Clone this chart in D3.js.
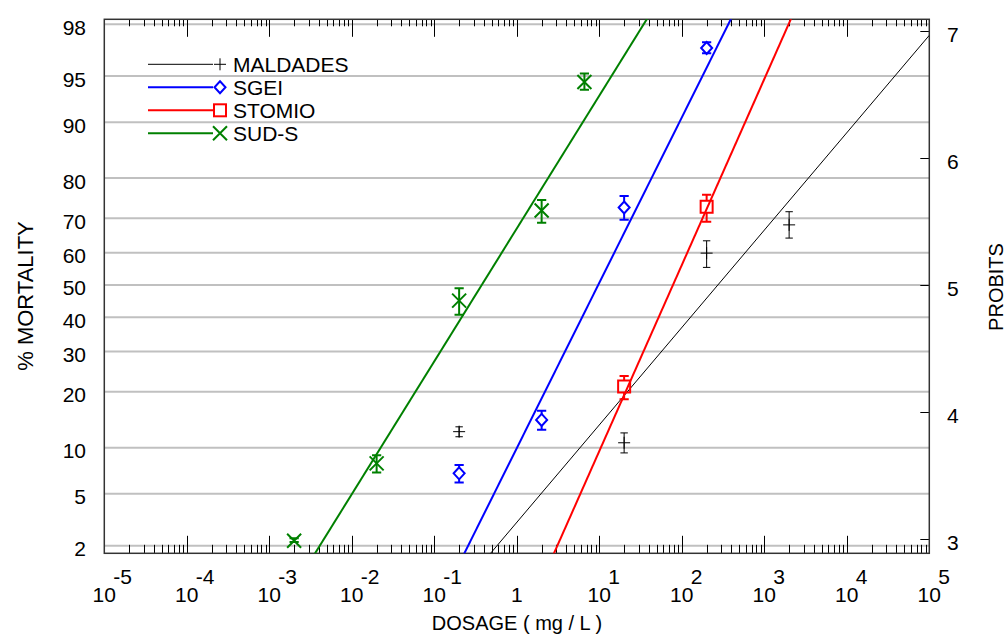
<!DOCTYPE html>
<html>
<head>
<meta charset="utf-8">
<script src="https://cdn.jsdelivr.net/npm/d3@7"></script>
<style>
body { margin: 0; background: #ffffff; }
text { font-family: Arial, "Liberation Sans", sans-serif; fill: #000; }
</style>
</head>
<body>
<script>
var seriesNames = ["MALDADES", "SGEI", "STOMIO", "SUD-S"];
var seriesColors = ["#000000", "#0000ff", "#ff0000", "#008000"];
var seriesMarkers = ["plus", "diamond", "square", "cross"];

// fitted probit lines: log10 of LD50 and slope (probits per decade)
var fitLogLD50 = [2.437, 0.987, 1.893, -0.425];
var fitSlope = [0.767, 1.302, 1.465, 1.046];

// observed mortality (%) with error bar limits, dose in mg/L
var maldadesDose = [0.2, 20, 200, 2000];
var maldadesPct = [12.4, 10.7, 59.9, 68.2];
var maldadesLow = [11.6, 9.3, 55.5, 64.4];
var maldadesHigh = [13.2, 12.2, 63.6, 71.8];

var sgeiDose = [0.2, 2, 20, 200];
var sgeiPct = [6.9, 14.4, 72.9, 96.9];
var sgeiLow = [6.0, 12.7, 69.6, 96.6];
var sgeiHigh = [7.8, 16.1, 75.8, 97.2];

var stomioDose = [20, 200];
var stomioPct = [21.2, 73.1];
var stomioLow = [18.4, 69.1];
var stomioHigh = [23.7, 76.1];

var sudsDose = [0.002, 0.02, 0.2, 2, 6.6];
var sudsPct = [2.2, 8.0, 45.1, 72.1, 94.5];
var sudsLow = [2.15, 7.0, 40.7, 68.8, 93.8];
var sudsHigh = [2.3, 9.0, 49.0, 74.8, 95.2];

var percentTicks = [2, 5, 10, 20, 30, 40, 50, 60, 70, 80, 90, 95, 98];
var probitTicks = [3, 4, 5, 6, 7];
var decadeTicks = [-5, -4, -3, -2, -1, 0, 1, 2, 3, 4, 5];

var seriesPoints = [
    [maldadesDose, maldadesPct, maldadesLow, maldadesHigh],
    [sgeiDose, sgeiPct, sgeiLow, sgeiHigh],
    [stomioDose, stomioPct, stomioLow, stomioHigh],
    [sudsDose, sudsPct, sudsLow, sudsHigh]
];

// percent -> probit (5 + inverse normal), Acklam approximation
function probit(pct) {
    var p = pct / 100;
    var a = [-39.69683028665376, 220.9460984245205, -275.9285104469687, 138.3577518672690, -30.66479806614716, 2.506628277459239];
    var b = [-54.47609879822406, 161.5858368580409, -155.6989798598866, 66.80131188771972, -13.28068155288572];
    var c = [-0.007784894002430293, -0.3223964580411365, -2.400758277161838, -2.549732539343734, 4.374664141464968, 2.938163982698783];
    var d = [0.007784695709041462, 0.3224671290700398, 2.445134137142996, 3.754408661907416];
    var plow = 0.02425, q, r, z;
    if (p < plow) {
        q = Math.sqrt(-2 * Math.log(p));
        z = (((((c[0] * q + c[1]) * q + c[2]) * q + c[3]) * q + c[4]) * q + c[5]) /
            ((((d[0] * q + d[1]) * q + d[2]) * q + d[3]) * q + 1);
    } else if (p <= 1 - plow) {
        q = p - 0.5;
        r = q * q;
        z = (((((a[0] * r + a[1]) * r + a[2]) * r + a[3]) * r + a[4]) * r + a[5]) * q /
            (((((b[0] * r + b[1]) * r + b[2]) * r + b[3]) * r + b[4]) * r + 1);
    } else {
        q = Math.sqrt(-2 * Math.log(1 - p));
        z = -(((((c[0] * q + c[1]) * q + c[2]) * q + c[3]) * q + c[4]) * q + c[5]) /
            ((((d[0] * q + d[1]) * q + d[2]) * q + d[3]) * q + 1);
    }
    return 5 + z;
}

var width = 1007;
var height = 634;
var plotLeft = 104.3, plotRight = 929.3, plotTop = 19.3, plotBottom = 553.3;
var fontsize = 21;

var x = d3.scaleLog().domain([1e-5, 1e5]).range([plotLeft, plotRight]);
var y = d3.scaleLinear().domain([2.887, 7.092]).range([plotBottom, plotTop]);

var svg = d3.select('body')
    .append('svg')
    .attr('width', width)
    .attr('height', height);

svg.append('defs').append('clipPath')
    .attr('id', 'plotclip')
    .append('rect')
    .attr('x', plotLeft)
    .attr('y', plotTop)
    .attr('width', plotRight - plotLeft)
    .attr('height', plotBottom - plotTop);

// grid lines at percent levels
svg.append('g').selectAll('line')
    .data(percentTicks)
    .enter().append('line')
    .attr('x1', plotLeft)
    .attr('x2', plotRight)
    .attr('y1', function (d) { return y(probit(d)); })
    .attr('y2', function (d) { return y(probit(d)); })
    .attr('stroke', '#c0c0c0')
    .attr('stroke-width', 2);

svg.append('g').selectAll('text')
    .data(percentTicks)
    .enter().append('text')
    .attr('x', 86)
    .attr('y', function (d) { return y(probit(d)) + 10.5; })
    .attr('text-anchor', 'end')
    .attr('font-size', fontsize)
    .text(function (d) { return d; });

// log ticks on top and bottom
var xTicks = x.ticks(20);
function isMajor(d) { return Math.abs(Math.log10(d) - Math.round(Math.log10(d))) < 1e-6; }

var tickGroup = svg.append('g').attr('stroke', '#000').attr('stroke-width', 1);
tickGroup.selectAll('line.bot')
    .data(xTicks)
    .enter().append('line')
    .attr('class', 'bot')
    .attr('x1', function (d) { return Math.round(x(d)) + 0.5; })
    .attr('x2', function (d) { return Math.round(x(d)) + 0.5; })
    .attr('y1', plotBottom)
    .attr('y2', function (d) { return isMajor(d) ? plotBottom - 17.5 : plotBottom - 8.5; });
tickGroup.selectAll('line.tp')
    .data(xTicks)
    .enter().append('line')
    .attr('class', 'tp')
    .attr('x1', function (d) { return Math.round(x(d)) + 0.5; })
    .attr('x2', function (d) { return Math.round(x(d)) + 0.5; })
    .attr('y1', plotTop)
    .attr('y2', function (d) { return isMajor(d) ? plotTop + 17.5 : plotTop + 7; });

// probit ticks on the right
tickGroup.selectAll('line.pr')
    .data(probitTicks)
    .enter().append('line')
    .attr('class', 'pr')
    .attr('x1', plotRight - 9)
    .attr('x2', plotRight)
    .attr('y1', function (d) { return Math.round(y(d)) + 0.5; })
    .attr('y2', function (d) { return Math.round(y(d)) + 0.5; });

svg.append('g').selectAll('text')
    .data(probitTicks)
    .enter().append('text')
    .attr('x', 947)
    .attr('y', function (d) { return y(d) + 11; })
    .attr('font-size', fontsize)
    .text(function (d) { return d; });

// decade labels 10^k
var xLabels = svg.append('g').selectAll('g')
    .data(decadeTicks)
    .enter().append('g');
xLabels.append('text')
    .attr('x', function (d) { return x(Math.pow(10, d)); })
    .attr('y', 602)
    .attr('text-anchor', 'middle')
    .attr('font-size', fontsize)
    .text(function (d) { return d === 0 ? '1' : '10'; });
xLabels.filter(function (d) { return d !== 0; })
    .append('text')
    .attr('x', function (d) { return x(Math.pow(10, d)) + 9; })
    .attr('y', 584)
    .attr('font-size', fontsize)
    .text(function (d) { return d; });

// frame
svg.append('rect')
    .attr('x', plotLeft)
    .attr('y', plotTop)
    .attr('width', plotRight - plotLeft)
    .attr('height', plotBottom - plotTop)
    .attr('fill', 'none')
    .attr('stroke', '#333')
    .attr('stroke-width', 1.5);

// axis titles
svg.append('text')
    .attr('x', 517)
    .attr('y', 630)
    .attr('text-anchor', 'middle')
    .attr('font-size', 20)
    .text('DOSAGE ( mg / L )');

svg.append('text')
    .attr('transform', 'translate(33,296) rotate(-90)')
    .attr('text-anchor', 'middle')
    .attr('font-size', 22)
    .text('% MORTALITY');

svg.append('text')
    .attr('transform', 'translate(1003,287) rotate(-90)')
    .attr('text-anchor', 'middle')
    .attr('font-size', 20)
    .text('PROBITS');

// marker shapes
function drawMarker(g, kind, color) {
    if (kind === 'plus') {
        g.append('path').attr('d', 'M-6,0H6M0,-6V6')
            .attr('stroke', color).attr('stroke-width', 1).attr('fill', 'none');
    } else if (kind === 'diamond') {
        g.append('path').attr('d', 'M0,-6L5.5,0L0,6L-5.5,0Z')
            .attr('stroke', color).attr('stroke-width', 2).attr('fill', 'none');
    } else if (kind === 'square') {
        g.append('rect').attr('x', -6).attr('y', -6).attr('width', 12).attr('height', 12)
            .attr('stroke', color).attr('stroke-width', 2).attr('fill', 'none');
    } else {
        g.append('path').attr('d', 'M-7,-7L7,7M-7,7L7,-7')
            .attr('stroke', color).attr('stroke-width', 2).attr('fill', 'none');
    }
}

// fitted lines
var fitLine = d3.line()
    .x(function (d) { return x(Math.pow(10, d[0])); })
    .y(function (d) { return y(d[1]); });

var lineGroup = svg.append('g').attr('clip-path', 'url(#plotclip)');
seriesNames.forEach(function (name, i) {
    var ends = [-5, 5].map(function (lg) {
        return [lg, 5 + fitSlope[i] * (lg - fitLogLD50[i])];
    });
    lineGroup.append('path')
        .attr('d', fitLine(ends))
        .attr('fill', 'none')
        .attr('stroke', seriesColors[i])
        .attr('stroke-width', i === 0 ? 1 : 2);
});

// points with error bars
seriesNames.forEach(function (name, i) {
    var pts = seriesPoints[i];
    var color = seriesColors[i];
    var kind = seriesMarkers[i];
    var sw = i === 0 ? 1 : 2;
    var cap = i === 0 ? 3.7 : 4.6;
    var gap = (kind === 'diamond' || kind === 'square') ? 6 : 0;
    pts[0].forEach(function (dose, j) {
        var cx = x(dose);
        var cy = y(probit(pts[1][j]));
        var yLo = y(probit(pts[2][j]));
        var yHi = y(probit(pts[3][j]));
        var g = svg.append('g');
        var bars = 'M' + cx + ',' + yHi + 'V' + Math.min(cy - gap, yLo) +
            'M' + cx + ',' + Math.max(cy + gap, yHi) + 'V' + yLo +
            'M' + (cx - cap) + ',' + yHi + 'H' + (cx + cap) +
            'M' + (cx - cap) + ',' + yLo + 'H' + (cx + cap);
        g.append('path')
            .attr('d', bars)
            .attr('stroke', color)
            .attr('stroke-width', sw)
            .attr('fill', 'none');
        var m = g.append('g').attr('transform', 'translate(' + cx + ',' + cy + ')');
        drawMarker(m, kind, color);
    });
});

// legend
var legend = svg.append('g');
seriesNames.forEach(function (name, i) {
    var ly = 64.3 + i * 23;
    legend.append('line')
        .attr('x1', 148)
        .attr('x2', 213)
        .attr('y1', ly)
        .attr('y2', ly)
        .attr('stroke', seriesColors[i])
        .attr('stroke-width', i === 0 ? 1 : 2);
    drawMarker(legend.append('g').attr('transform', 'translate(220,' + ly + ')'), seriesMarkers[i], seriesColors[i]);
    legend.append('text')
        .attr('x', 233)
        .attr('y', ly + 7.5)
        .attr('font-size', fontsize)
        .text(name);
});
</script>
</body>
</html>
